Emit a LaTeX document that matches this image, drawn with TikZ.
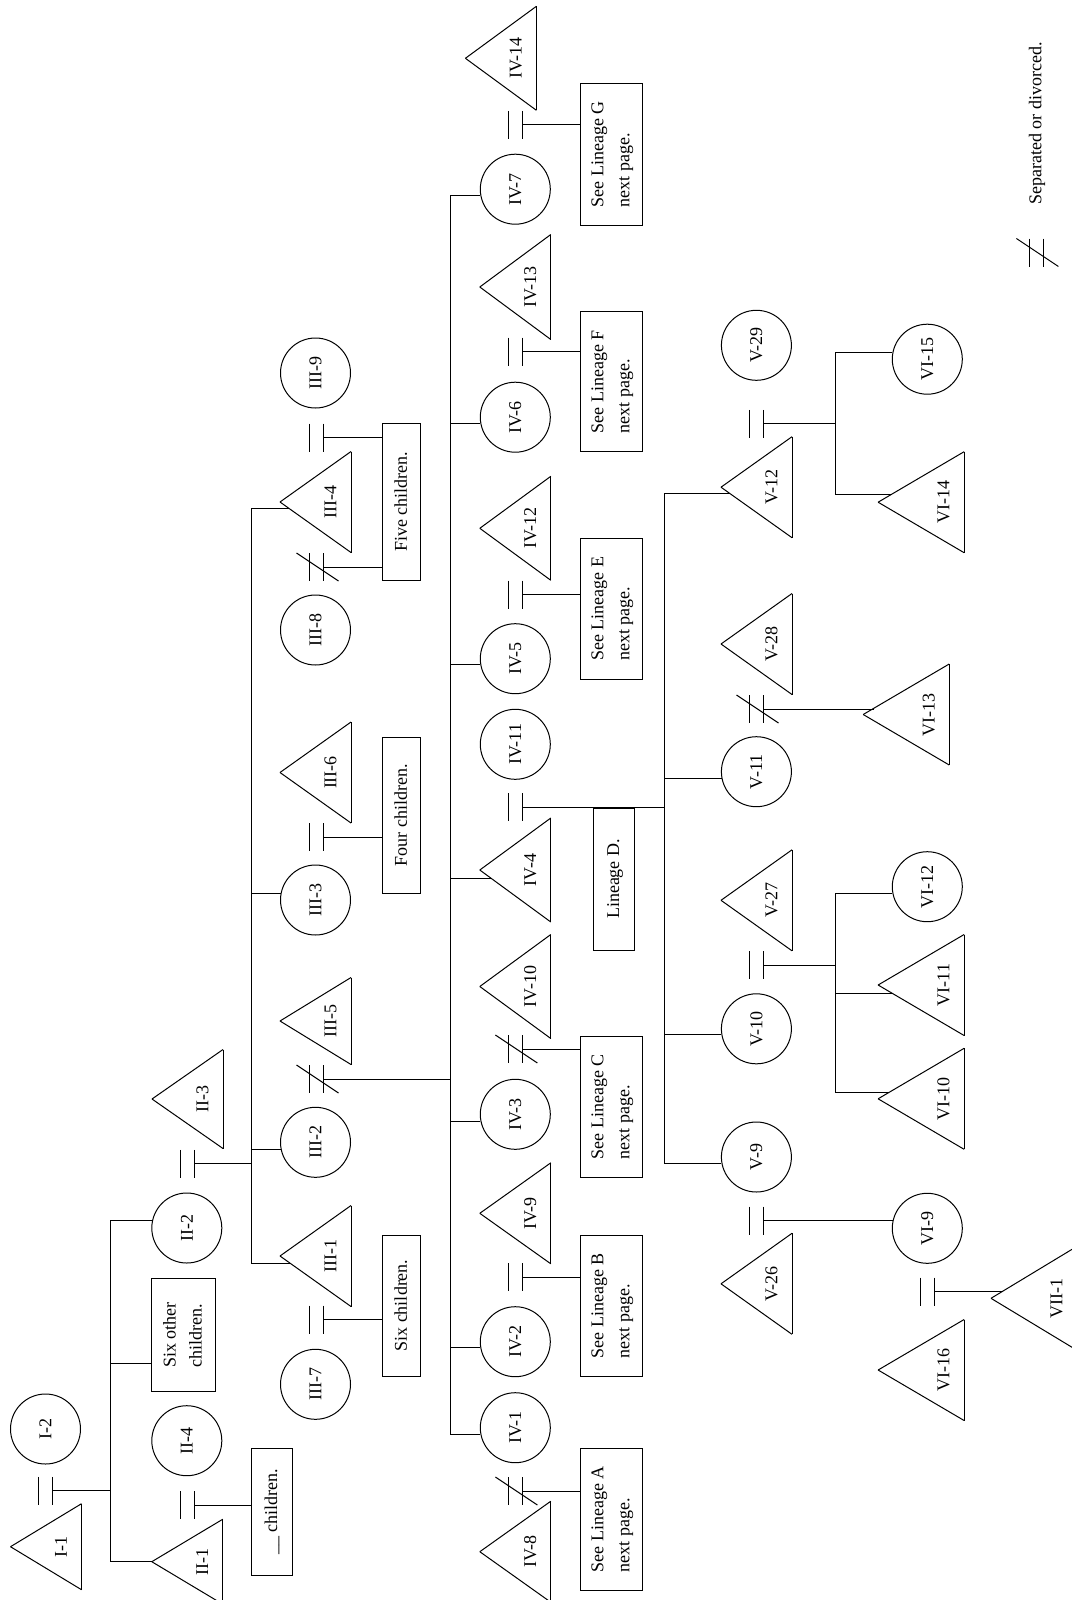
\documentclass[tikz,border=0pt]{standalone}
\usepackage{fontspec}
\setmainfont{Liberation Serif}
\usepackage{graphicx}
\usetikzlibrary{calc}

\newcommand{\lbfont}{\fontsize{9}{13}\selectfont}
\newcommand{\vtxt}[1]{\rotatebox{90}{\begin{tabular}{@{}l@{}}#1\end{tabular}}}

\tikzstyle{fem} = [circle, draw, minimum size=35pt, inner sep=0pt, font=\lbfont]
\tikzstyle{tri} = [
    rectangle,
    inner sep=0pt,
    font=\lbfont,
    append after command={
        (\tikzlastnode.west) edge (\tikzlastnode.north east)
        (\tikzlastnode.north east) edge (\tikzlastnode.south east)
        (\tikzlastnode.south east) edge (\tikzlastnode.west)}
]
\tikzstyle{mal} = [tri, minimum width=35pt, minimum height=50pt,
    execute at begin node={\hspace*{15pt}}]
\tikzstyle{malt} = [tri, minimum width=42.5pt, minimum height=50pt,
    execute at begin node={\hspace*{22.5pt}}]
\tikzstyle{note} = [rectangle, draw, inner sep=0pt, font=\lbfont]

% marriage bars: name, column x, y
\newcommand{\marr}[3]{%
    \draw (#2-7,#3-14) -- (#2-7,#3+14);
    \draw (#2+7,#3-14) -- (#2+7,#3+14);
    \coordinate (#1) at (#2+7,#3);}
% separated or divorced
\newcommand{\divo}[3]{%
    \marr{#1}{#2}{#3}
    \draw (#2-20,#3-14) -- (#2+22,#3+14);}

\begin{document}
\begin{tikzpicture}[x=0.5pt, y=-0.5pt, line width=0.5pt]
        \useasboundingbox (0,0) rectangle (1071,1600);

        % Generation I
        \node[mal, minimum height=42.5pt] (i_1) at (46,1546.7) {\rotatebox{90}{I-1}};
        \node[fem] (i_2) at (45.5,1429) {\rotatebox{90}{I-2}};
        \marr{m_i}{45.8}{1490.9}

        % Generation II
        \node[fem] (ii_2) at (186.8,1228) {\rotatebox{90}{II-2}};
        \node[note, minimum width=31.9pt, minimum height=56.7pt] (six_other) at (183.4,1335) {\vtxt{Six other\\children.}};
        \node[fem] (ii_4) at (186.8,1440.7) {\rotatebox{90}{II-4}};
        \node[mal, minimum height=42pt] (ii_1) at (187.3,1561.7) {\rotatebox{90}{II-1}};
        \node[mal, minimum height=49pt] (ii_3) at (187.5,1099) {\rotatebox{90}{II-3}};
        \marr{m_ii}{187.3}{1163.9}
        \marr{m_ii4}{187.3}{1505}
        \node[note, minimum width=20.7pt, minimum height=63.3pt] (ch_blank) at (272,1511.7) {\vtxt{\_\_ children.}};

        % Generation III
        \node[fem] (iii_9) at (315.5,373) {\rotatebox{90}{III-9}};
        \node[mal] (iii_4) at (315.5,502) {\rotatebox{90}{III-4}};
        \node[fem] (iii_8) at (315.5,630) {\rotatebox{90}{III-8}};
        \node[mal] (iii_6) at (315.5,772.5) {\rotatebox{90}{III-6}};
        \node[fem] (iii_3) at (315.5,900) {\rotatebox{90}{III-3}};
        \node[mal, minimum height=43pt] (iii_5) at (315.5,1021) {\rotatebox{90}{III-5}};
        \node[fem] (iii_2) at (315.5,1142.3) {\rotatebox{90}{III-2}};
        \node[mal] (iii_1) at (315.5,1256) {\rotatebox{90}{III-1}};
        \node[fem] (iii_7) at (315.5,1384.3) {\rotatebox{90}{III-7}};
        \marr{m_iii4}{316.5}{437.5}
        \divo{d_iii8}{316.5}{567}
        \marr{m_iii3}{316.5}{837}
        \divo{d_iii2}{316.5}{1079}
        \marr{m_iii7}{316.5}{1319.7}
        \node[note, minimum width=19.3pt, minimum height=78.3pt] (five_ch) at (401.6,501.7) {\vtxt{Five children.}};
        \node[note, minimum width=19.3pt, minimum height=78pt] (four_ch) at (401.6,815.3) {\vtxt{Four children.}};
        \node[note, minimum width=19.3pt, minimum height=70.5pt] (six_ch) at (401.6,1305.5) {\vtxt{Six children.}};

        % Generation IV
        \node[mal, minimum height=51.5pt] (iv_14) at (500.9,58.3) {\rotatebox{90}{IV-14}};
        \node[fem] (iv_7) at (515.3,189.2) {\rotatebox{90}{IV-7}};
        \node[mal, minimum height=52pt] (iv_13) at (515.3,287) {\rotatebox{90}{IV-13}};
        \node[fem] (iv_6) at (515.3,417.2) {\rotatebox{90}{IV-6}};
        \node[mal, minimum height=51.5pt] (iv_12) at (515.3,528.3) {\rotatebox{90}{IV-12}};
        \node[fem] (iv_5) at (515.3,658.7) {\rotatebox{90}{IV-5}};
        \node[fem] (iv_11) at (515.3,744.3) {\rotatebox{90}{IV-11}};
        \node[mal, minimum height=51.5pt] (iv_4) at (515.3,870) {\rotatebox{90}{IV-4}};
        \node[mal, minimum height=51.5pt] (iv_10) at (515.3,986.5) {\rotatebox{90}{IV-10}};
        \node[fem] (iv_3) at (515.3,1114.3) {\rotatebox{90}{IV-3}};
        \node[mal] (iv_9) at (515.3,1213.3) {\rotatebox{90}{IV-9}};
        \node[fem] (iv_2) at (515.3,1341.7) {\rotatebox{90}{IV-2}};
        \node[fem] (iv_1) at (515.3,1427.7) {\rotatebox{90}{IV-1}};
        \node[mal] (iv_8) at (515.3,1551.7) {\rotatebox{90}{IV-8}};
        \marr{m_iv7}{515.4}{125}
        \marr{m_iv6}{515.4}{351.7}
        \marr{m_iv5}{515.4}{594.5}
        \marr{m_iv4}{515.4}{807.3}
        \divo{d_iv3}{515.4}{1049}
        \marr{m_iv2}{515.4}{1277}
        \divo{d_iv1}{515.4}{1491}
        \node[note, minimum width=31.1pt, minimum height=70.8pt] (lin_g) at (611.1,154.2) {\vtxt{See Lineage G\\next page.}};
        \node[note, minimum width=31.1pt, minimum height=70pt] (lin_f) at (611.1,381.7) {\vtxt{See Lineage F\\next page.}};
        \node[note, minimum width=31.1pt, minimum height=70.5pt] (lin_e) at (611.1,608.8) {\vtxt{See Lineage E\\next page.}};
        \node[note, minimum width=20.3pt, minimum height=71pt] (lin_d) at (614,879) {\vtxt{Lineage D.}};
        \node[note, minimum width=31.1pt, minimum height=70.8pt] (lin_c) at (611.1,1106.8) {\vtxt{See Lineage C\\next page.}};
        \node[note, minimum width=31.1pt, minimum height=70.8pt] (lin_b) at (611.1,1305.8) {\vtxt{See Lineage B\\next page.}};
        \node[note, minimum width=31.1pt, minimum height=70.8pt] (lin_a) at (611.1,1519.2) {\vtxt{See Lineage A\\next page.}};

        % Generation V
        \node[fem] (v_29) at (756.4,345.3) {\rotatebox{90}{V-29}};
        \node[mal] (v_12) at (756.5,487.2) {\rotatebox{90}{V-12}};
        \node[mal] (v_28) at (756.5,644) {\rotatebox{90}{V-28}};
        \node[fem] (v_11) at (756.4,771.7) {\rotatebox{90}{V-11}};
        \node[mal] (v_27) at (756.5,900.3) {\rotatebox{90}{V-27}};
        \node[fem] (v_10) at (756.4,1028.8) {\rotatebox{90}{V-10}};
        \node[fem] (v_9) at (756.4,1157) {\rotatebox{90}{V-9}};
        \node[mal] (v_26) at (756.5,1283.8) {\rotatebox{90}{V-26}};
        \marr{m_v12}{756.5}{423.8}
        \divo{d_v11}{756.5}{709}
        \marr{m_v10}{756.5}{965}
        \marr{m_v9}{756.5}{1220.5}

        % Generation VI
        \node[fem] (vi_15) at (927.3,359.2) {\rotatebox{90}{VI-15}};
        \node[malt] (vi_14) at (921.1,502.2) {\rotatebox{90}{VI-14}};
        \node[malt] (vi_13) at (906.2,714.5) {\rotatebox{90}{VI-13}};
        \node[fem] (vi_12) at (927.3,886.7) {\rotatebox{90}{VI-12}};
        \node[malt] (vi_11) at (921.1,985) {\rotatebox{90}{VI-11}};
        \node[malt] (vi_10) at (921.1,1098.8) {\rotatebox{90}{VI-10}};
        \node[fem] (vi_9) at (927.3,1228.3) {\rotatebox{90}{VI-9}};
        \node[malt] (vi_16) at (921.1,1370) {\rotatebox{90}{VI-16}};
        \marr{m_vi9}{927.7}{1291.7}

        % Generation VII
        \node[malt, minimum height=51.5pt] (vii_1) at (1034,1298.3) {\rotatebox{90}{VII-1}};

        % Sibship lines
        \coordinate (s_ii) at (110.2,1490.9);
        \draw (m_i) -- (s_ii);
        \draw (ii_2.168) -| (s_ii |- ii_1.west) -- (ii_1.west);
        \coordinate (six_b) at ($(six_other.south west)!0.25!(six_other.north west)$);
        \draw (six_b) -- (six_b -| s_ii);
        \draw (m_ii4) -- (m_ii4 -| ch_blank.west);

        \coordinate (s_iii) at (251.4,1163.9);
        \draw (m_ii) -- (s_iii);
        \coordinate (iii_4b) at ($(iii_4.west)!0.13!(iii_4.south east)$);
        \coordinate (iii_1b) at ($(iii_1.west)!0.15!(iii_1.south east)$);
        \draw (iii_4b) -| (s_iii |- iii_1b) -- (iii_1b);
        \draw (iii_3.169) -- (iii_3.169 -| s_iii);
        \draw (iii_2.191) -- (iii_2.191 -| s_iii);
        \draw (m_iii4) -- (m_iii4 -| five_ch.west);
        \draw (d_iii8) -- (d_iii8 -| five_ch.west);
        \draw (m_iii3) -- (m_iii3 -| four_ch.west);
        \draw (m_iii7) -- (m_iii7 -| six_ch.west);

        \coordinate (s_iv) at (450.5,1079);
        \draw (d_iii2) -- (s_iv);
        \draw (iv_7.190) -| (s_iv |- iv_1.191) -- (iv_1.191);
        \draw (iv_6.190) -- (iv_6.190 -| s_iv);
        \draw (iv_5.190) -- (iv_5.190 -| s_iv);
        \coordinate (iv_4b) at ($(iv_4.west)!0.16!(iv_4.south east)$);
        \draw (iv_4b) -- (iv_4b -| s_iv);
        \draw (iv_3.191) -- (iv_3.191 -| s_iv);
        \draw (iv_2.190) -- (iv_2.190 -| s_iv);
        \draw (m_iv7) -- (m_iv7 -| lin_g.west);
        \draw (m_iv6) -- (m_iv6 -| lin_f.west);
        \draw (m_iv5) -- (m_iv5 -| lin_e.west);
        \draw (d_iv3) -- (d_iv3 -| lin_c.west);
        \draw (m_iv2) -- (m_iv2 -| lin_b.west);
        \draw (d_iv1) -- (d_iv1 -| lin_a.west);

        \coordinate (s_v) at (664.3,807.3);
        \draw (m_iv4) -- (s_v);
        \coordinate (v_12b) at ($(v_12.west)!0.13!(v_12.south east)$);
        \draw (v_12b) -| (s_v |- v_9.190) -- (v_9.190);
        \draw (v_11.191) -- (v_11.191 -| s_v);
        \draw (v_10.190) -- (v_10.190 -| s_v);

        \coordinate (s_vib) at (835.4,423.8);
        \draw (m_v12) -- (s_vib);
        \coordinate (vi_14b) at ($(vi_14.west)!0.16!(vi_14.north east)$);
        \draw (vi_15.169) -| (s_vib |- vi_14b) -- (vi_14b);
        \coordinate (vi_13b) at ($(vi_13.west)!0.12!(vi_13.north east)$);
        \draw (d_v11) -- (d_v11 -| vi_13b);
        \coordinate (s_via) at (835.4,965);
        \draw (m_v10) -- (s_via);
        \coordinate (vi_11b) at ($(vi_11.west)!0.17!(vi_11.south east)$);
        \coordinate (vi_10b) at ($(vi_10.west)!0.13!(vi_10.north east)$);
        \draw (vi_12.191) -| (s_via |- vi_10b) -- (vi_10b);
        \draw (vi_11b) -- (vi_11b -| s_via);
        \draw (m_v9) -- (m_v9 -| vi_9.167);

        \coordinate (vii_1b) at ($(vii_1.west)!0.125!(vii_1.north east)$);
        \draw (m_vi9) -- (m_vi9 -| vii_1b);

        % Key
        \divo{d_key}{1036.4}{252.5}
        \node[font=\lbfont] (key_txt) at (1037,123.3) {\rotatebox{90}{Separated or divorced.}};
    \end{tikzpicture}
\end{document}
